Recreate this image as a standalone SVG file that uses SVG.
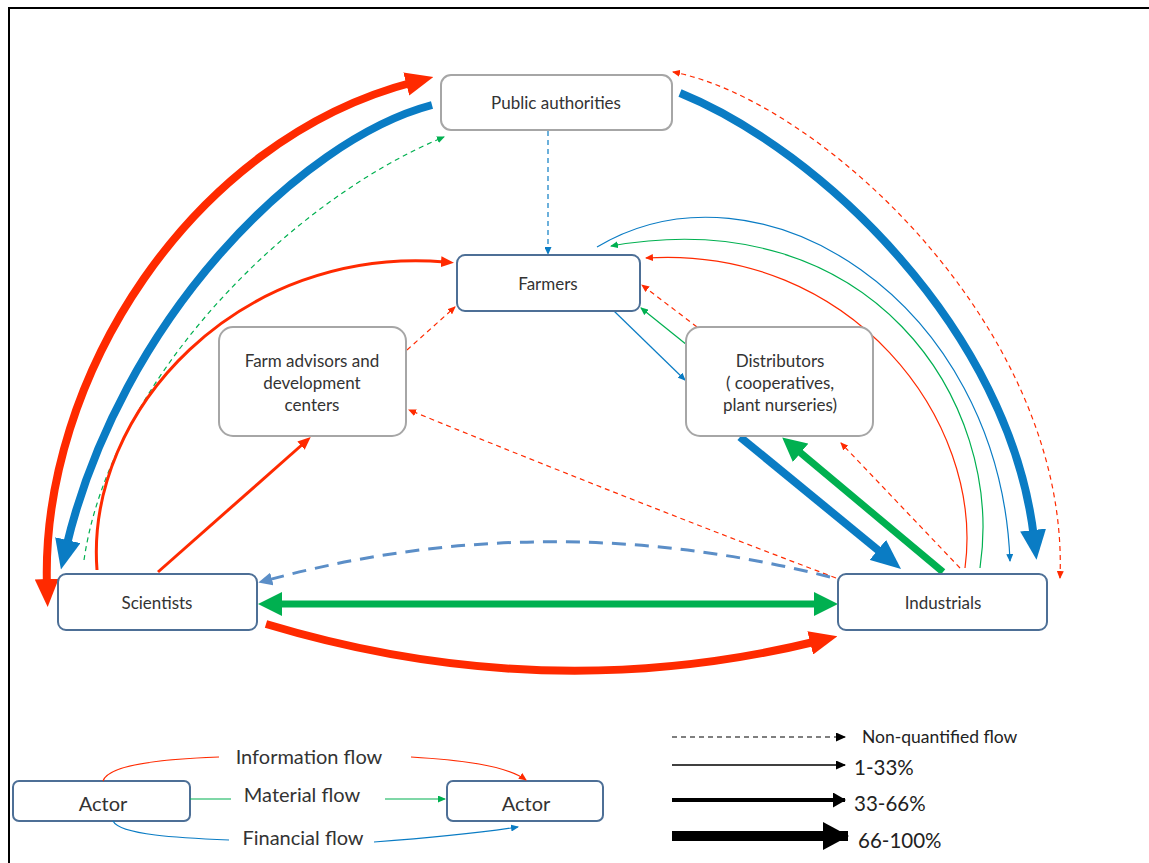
<svg xmlns="http://www.w3.org/2000/svg" width="1149" height="863" viewBox="0 0 1149 863">
<style>
.nb{fill:#fff;stroke:#a6a6a6;stroke-width:2}
.nd{fill:#fff;stroke:#4d6f96;stroke-width:2}
.t{font-family:Lato,"Open Sans",sans-serif;font-size:17px;fill:#333;text-anchor:middle}
.lt{font-family:Lato,"Open Sans",sans-serif;font-size:20px;fill:#333;text-anchor:middle}
.rt{font-family:Lato,"Open Sans",sans-serif;fill:#222}
.c{fill:none}
.r{stroke:#ff2a00}
.b{stroke:#0a7cc4}
.g{stroke:#00b050}
.s{stroke:#5b8ec7}
.k{stroke:#000}
.w1{stroke-width:1.2}
.w3{stroke-width:3}
.w7{stroke-width:7}
.w8{stroke-width:8}
.d{stroke-dasharray:5 4}
</style>
<defs>
<marker id="rL" markerUnits="userSpaceOnUse" markerWidth="28" markerHeight="24" viewBox="0 0 28 24" refX="8" refY="12" orient="auto-start-reverse"><path d="M0,0 L28,12 L0,24 z" fill="#ff2a00"/></marker>
<marker id="bL" markerUnits="userSpaceOnUse" markerWidth="30" markerHeight="26" viewBox="0 0 30 26" refX="8" refY="13" orient="auto"><path d="M0,0 L30,13 L0,26 z" fill="#0a7cc4"/></marker>
<marker id="gL" markerUnits="userSpaceOnUse" markerWidth="24" markerHeight="24" viewBox="0 0 24 24" refX="6" refY="12" orient="auto-start-reverse"><path d="M0,0 L24,12 L0,24 z" fill="#00b050"/></marker>
<marker id="rM" markerUnits="userSpaceOnUse" markerWidth="13" markerHeight="11" viewBox="0 0 13 11" refX="4" refY="5.5" orient="auto"><path d="M0,0 L13,5.5 L0,11 z" fill="#ff2a00"/></marker>
<marker id="sM" markerUnits="userSpaceOnUse" markerWidth="14" markerHeight="13" viewBox="0 0 14 13" refX="4" refY="6.5" orient="auto"><path d="M0,0 L14,6.5 L0,13 z" fill="#5b8ec7"/></marker>
<marker id="rT" markerUnits="userSpaceOnUse" markerWidth="8" markerHeight="7" viewBox="0 0 8 7" refX="7" refY="3.5" orient="auto-start-reverse"><path d="M0,0 L8,3.5 L0,7 z" fill="#ff2a00"/></marker>
<marker id="bT" markerUnits="userSpaceOnUse" markerWidth="8" markerHeight="7" viewBox="0 0 8 7" refX="7" refY="3.5" orient="auto"><path d="M0,0 L8,3.5 L0,7 z" fill="#0a7cc4"/></marker>
<marker id="gT" markerUnits="userSpaceOnUse" markerWidth="8" markerHeight="7" viewBox="0 0 8 7" refX="7" refY="3.5" orient="auto"><path d="M0,0 L8,3.5 L0,7 z" fill="#00b050"/></marker>
<marker id="kT" markerUnits="userSpaceOnUse" markerWidth="10" markerHeight="9" viewBox="0 0 10 9" refX="9" refY="4.5" orient="auto"><path d="M0,0 L10,4.5 L0,9 z" fill="#000"/></marker>
<marker id="kM" markerUnits="userSpaceOnUse" markerWidth="13" markerHeight="15" viewBox="0 0 13 15" refX="12" refY="7.5" orient="auto"><path d="M0,0 L13,7.5 L0,15 z" fill="#000"/></marker>
<marker id="kL" markerUnits="userSpaceOnUse" markerWidth="26" markerHeight="28" viewBox="0 0 26 28" refX="25" refY="14" orient="auto"><path d="M0,0 L26,14 L0,28 z" fill="#000"/></marker>
</defs>
<rect x="0" y="0" width="1149" height="863" fill="#fff"/>
<path d="M9,863 V8 H1149" fill="none" stroke="#000" stroke-width="2"/>

<g id="connectors">
<path class="c r w8" d="M47,587 C 40,380 190,140 414,82" marker-start="url(#rL)" marker-end="url(#rL)"/>
<path class="c b w8" d="M432,105 C 300,140 120,320 66,548" marker-end="url(#bL)"/>
<path class="c g w1 d" d="M84,560 C 110,380 290,200 444,137" marker-end="url(#gT)"/>
<path class="c r w3" d="M97,570 C 85,410 240,245 445,262" marker-end="url(#rM)"/>
<path class="c r w3" d="M158,572 L304,443" marker-end="url(#rM)"/>
<path class="c r w1 d" d="M407,350 L455,307" marker-end="url(#rT)"/>
<path class="c b w1 d" d="M548,131 L548,254" marker-end="url(#bT)"/>
<path class="c b w1" d="M614,311 L685,380" marker-end="url(#bT)"/>
<path class="c g w1" d="M687,345 L641,308" marker-end="url(#gT)"/>
<path class="c r w1 d" d="M697,327 L642,285" marker-end="url(#rT)"/>
<path class="c r w1 d" d="M836,578 Q 630,500 409,410" marker-end="url(#rT)"/>
<path class="c r w1 d" d="M960,568 L841,443" marker-end="url(#rT)"/>
<path class="c b w8" d="M740,437 L884,555" marker-end="url(#bL)"/>
<path class="c g w7" d="M943,572 L796,449" marker-end="url(#gL)"/>
<path class="c r w1" d="M965,568 C 985,420 850,245 646,258" marker-end="url(#rT)"/>
<path class="c g w1" d="M980,568 C 1005,400 870,200 611,246" marker-end="url(#gT)"/>
<path class="c b w1" d="M597,247 C 760,150 1000,300 1010,561" marker-end="url(#bT)"/>
<path class="c b w8" d="M680,93 C 820,150 1010,330 1034,538" marker-end="url(#bL)"/>
<path class="c r w1 d" d="M1060,578 C 1070,330 820,100 673,72" marker-start="url(#rT)" marker-end="url(#rT)"/>
<path class="c s w3" stroke-dasharray="14 9" d="M830,577 Q 545,505 268,580" marker-end="url(#sM)"/>
<path class="c g w7" d="M276,604 L820,604" marker-start="url(#gL)" marker-end="url(#gL)"/>
<path class="c r w8" d="M266,624 Q 545,708 818,641" marker-end="url(#rL)"/>
</g>

<g id="public-authorities"><rect class="nb" x="441" y="75" width="231" height="55" rx="10"/><text class="t" x="556" y="109">Public authorities</text></g>
<g id="farmers"><rect class="nd" x="457" y="255" width="183" height="56" rx="8"/><text class="t" x="548" y="290">Farmers</text></g>
<g id="farm-advisors"><rect class="nb" x="219" y="327" width="187" height="109" rx="14"/><text class="t" x="312" y="367">Farm advisors and</text><text class="t" x="312" y="389">development</text><text class="t" x="312" y="411">centers</text></g>
<g id="distributors"><rect class="nb" x="686" y="327" width="187" height="109" rx="14"/><text class="t" x="780" y="367">Distributors</text><text class="t" x="780" y="389">( cooperatives,</text><text class="t" x="780" y="411">plant nurseries)</text></g>
<g id="scientists"><rect class="nd" x="58" y="574" width="199" height="56" rx="8"/><text class="t" x="157" y="609">Scientists</text></g>
<g id="industrials"><rect class="nd" x="838" y="574" width="209" height="56" rx="8"/><text class="t" x="943" y="609">Industrials</text></g>

<g id="legend-actors">
<rect class="nd" x="13" y="781" width="177" height="40" rx="6"/><text class="lt" x="103" y="811">Actor</text>
<rect class="nd" x="447" y="781" width="156" height="40" rx="6"/><text class="lt" x="526" y="811">Actor</text>
<path class="c r w1" d="M103,781 C 108,765 160,759 219,757"/>
<path class="c r w1" d="M411,757 C 460,760 505,765 526,780" marker-end="url(#rT)"/>
<text class="lt" x="309" y="764">Information flow</text>
<path class="c g w1" d="M190,799 L231,799"/>
<path class="c g w1" d="M385,799 L445,799" marker-end="url(#gT)"/>
<text class="lt" x="302" y="802">Material flow</text>
<path class="c b w1" d="M113,821 C 120,835 180,838 229,840"/>
<path class="c b w1" d="M374,842 C 430,838 480,833 518,827" marker-end="url(#bT)"/>
<text class="lt" x="303" y="845">Financial flow</text>
</g>
<g id="legend-scale">
<path class="c k w1 d" d="M672,737 L845,737" marker-end="url(#kT)"/>
<text class="rt" x="862" y="743" font-size="17.5">Non-quantified flow</text>
<path class="c k" stroke-width="1.5" d="M672,765 L845,765" marker-end="url(#kT)"/>
<text class="rt" x="854" y="775" font-size="20.5">1-33%</text>
<path class="c k" stroke-width="4" d="M672,800 L845,800" marker-end="url(#kM)"/>
<text class="rt" x="854" y="811" font-size="20.5">33-66%</text>
<path class="c k" stroke-width="10" d="M672,836 L848,836" marker-end="url(#kL)"/>
<text class="rt" x="858" y="848" font-size="20.5">66-100%</text>
</g>
</svg>
